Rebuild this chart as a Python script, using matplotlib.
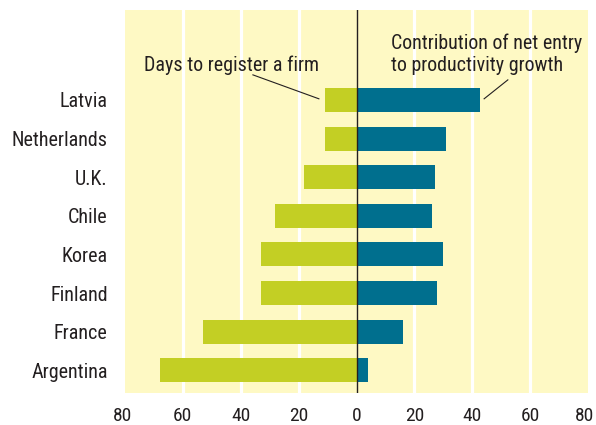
import matplotlib
matplotlib.use("Agg")
import matplotlib.pyplot as plt
import matplotlib.transforms as mtrans
import numpy as np

countries = ["Argentina", "France", "Finland", "Korea", "Chile", "U.K.", "Netherlands", "Latvia"]
days_to_register = [68, 53, 33, 33, 28, 18, 11, 11]
net_entry_contribution = [4, 16, 27.7, 30, 26, 27.2, 31, 42.8]
xticks = [-80, -60, -40, -20, 0, 20, 40, 60, 80]
xtick_labels = ["80", "60", "40", "20", "0", "20", "40", "60", "80"]

plt.rcParams['font.family'] = ['Roboto Condensed', 'DejaVu Sans']
text_color = '#231f20'
green = '#c3cf24'
teal = '#006f8e'
bg = '#fef9c4'

fig = plt.figure(figsize=(5.96, 4.25), dpi=100)
ax = fig.add_axes([125/596, 1-393/425, 463/596, 383/425])
ax.set_facecolor(bg)

y = np.arange(len(countries))
ax.barh(y, [-d for d in days_to_register], height=0.62, color=green, zorder=3)
ax.barh(y, net_entry_contribution, height=0.62, color=teal, zorder=3)

for g in [-60, -40, -20, 20, 40, 60]:
    ax.axvline(g, color='white', lw=2.3, zorder=1)
ax.axvline(0, color=text_color, lw=1.0, zorder=4)

ax.set_xlim(-80, 80)
ax.set_ylim(-0.59, 9.33)
ax.set_xticks(xticks)
ax.set_xticklabels(xtick_labels, fontsize=14, color=text_color)
ax.set_yticks(y)
ax.set_yticklabels(countries, fontsize=14.5, color=text_color)
ax.tick_params(axis='x', length=0, pad=10)
ax.tick_params(axis='y', length=0, pad=12.5)
for s in ax.spines.values():
    s.set_visible(False)

# nudge the edge tick labels inward slightly, as in the reference
xt_labels = ax.get_xticklabels()
xt_labels[0].set_transform(xt_labels[0].get_transform() +
                           mtrans.ScaledTranslation(-2/100, 0, fig.dpi_scale_trans))
xt_labels[-1].set_transform(xt_labels[-1].get_transform() +
                            mtrans.ScaledTranslation(-3/100, 0, fig.dpi_scale_trans))

ax.text(-73.3, 7.91, "Days to register a firm", fontsize=14.4, color=text_color,
        ha='left', va='center', zorder=5)
ax.plot([-35.8, -13.0], [7.65, 7.03], color=text_color, lw=0.8, zorder=5)

ax.text(11.8, 8.46, "Contribution of net entry", fontsize=14.4, color=text_color,
        ha='left', va='center', zorder=5)
ax.text(11.8, 7.90, "to productivity growth", fontsize=14.4, color=text_color,
        ha='left', va='center', zorder=5)
ax.plot([52.3, 44.1], [7.52, 7.03], color=text_color, lw=0.8, zorder=5)

fig.savefig("out.png", dpi=100)
